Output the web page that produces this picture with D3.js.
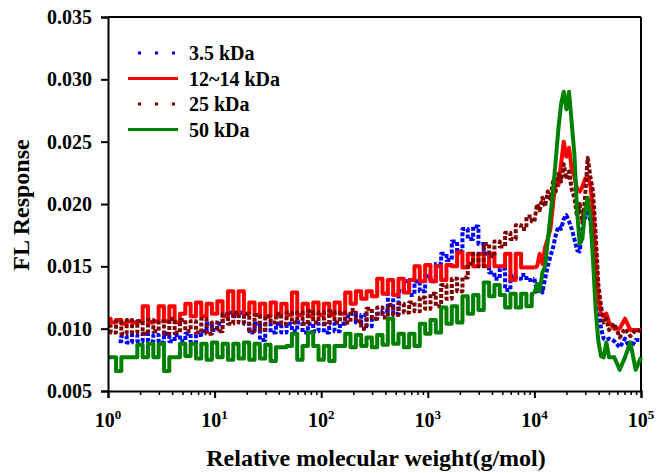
<!DOCTYPE html>
<html>
<head>
<meta charset="utf-8">
<script src="https://cdn.jsdelivr.net/npm/d3@7/dist/d3.min.js"></script>
<style>
  body { margin: 0; background: #fff; }
  svg text { font-family: "Liberation Serif", "Times New Roman", serif; font-weight: bold; fill: #000; }
</style>
</head>
<body>
<svg id="chart" width="658" height="473"></svg>
<script>
// log10 of relative molecular weight (shared x grid)
var logM = [
  0.00, 0.05, 0.10, 0.15, 0.20, 0.25, 0.30, 0.35, 0.40, 0.45,
  0.50, 0.55, 0.60, 0.65, 0.70, 0.75, 0.80, 0.85, 0.90, 0.95,
  1.00, 1.05, 1.10, 1.15, 1.20, 1.25, 1.30, 1.35, 1.40, 1.45,
  1.50, 1.55, 1.60, 1.65, 1.70, 1.75, 1.80, 1.85, 1.90, 1.95,
  2.00, 2.05, 2.10, 2.15, 2.20, 2.25, 2.30, 2.35, 2.40, 2.45,
  2.50, 2.55, 2.60, 2.65, 2.70, 2.75, 2.80, 2.85, 2.90, 2.95,
  3.00, 3.05, 3.10, 3.15, 3.20, 3.25, 3.30, 3.35, 3.40, 3.45,
  3.50, 3.55, 3.60, 3.65, 3.70, 3.75, 3.80, 3.85, 3.90, 3.95,
  4.00, 4.025, 4.05, 4.075, 4.10, 4.125, 4.15, 4.175, 4.20, 4.225,
  4.25, 4.275, 4.30, 4.325, 4.35, 4.375, 4.40, 4.425, 4.45, 4.475,
  4.50, 4.525, 4.55, 4.575, 4.60, 4.625, 4.65, 4.675, 4.70, 4.75,
  4.80, 4.85, 4.90, 4.95, 5.00
];

var fl35 = [
  null, null, 0.0090, 0.0094, 0.0089, 0.0095, 0.0090, 0.0096, 0.0090, 0.0095,
  0.0089, 0.0096, 0.0090, 0.0095, 0.0090, 0.0096, 0.0089, 0.0095, 0.0098, 0.0104,
  0.0099, 0.0104, 0.0110, 0.0113, 0.0110, 0.0113, 0.0104, 0.0097, 0.0104, 0.0091,
  0.0104, 0.0097, 0.0104, 0.0097, 0.0104, 0.0098, 0.0105, 0.0097, 0.0104, 0.0098,
  0.0104, 0.0097, 0.0105, 0.0098, 0.0104, 0.0110, 0.0112, 0.0105, 0.0111, 0.0102,
  0.0108, 0.0112, 0.0114, 0.0128, 0.0112, 0.0130, 0.0138, 0.0127, 0.0138, 0.0130,
  0.0142, 0.0138, 0.0152, 0.0160, 0.0155, 0.0170, 0.0162, 0.0180, 0.0172, 0.0182,
  0.0168, 0.0160, 0.0145, 0.0140, 0.0148, 0.0131, 0.0142, 0.0140, 0.0143, 0.0139,
  0.0140, 0.0130, 0.0135, 0.0129, 0.0140, 0.0150, 0.0158, 0.0165, 0.0175, 0.0182,
  0.0180, 0.0188, 0.0191, 0.0186, 0.0180, 0.0172, 0.0163, 0.0162, 0.0180, 0.0189,
  0.0193, 0.0187, 0.0165, 0.0138, 0.0118, 0.0100, 0.0092, 0.0091, 0.0092, 0.0090,
  0.0085, 0.0092, 0.0084, 0.0091, 0.0091
];

var fl1214 = [
  0.0108, 0.0105, 0.0107, 0.0104, 0.0106, 0.0105, 0.0106, 0.0118, 0.0105, 0.0106,
  0.0118, 0.0106, 0.0118, 0.0105, 0.0112, 0.0120, 0.0110, 0.0121, 0.0110, 0.0120,
  0.0112, 0.0122, 0.0110, 0.0130, 0.0112, 0.0130, 0.0112, 0.0121, 0.0111, 0.0120,
  0.0110, 0.0121, 0.0110, 0.0120, 0.0111, 0.0129, 0.0111, 0.0120, 0.0110, 0.0121,
  0.0111, 0.0120, 0.0111, 0.0121, 0.0112, 0.0129, 0.0120, 0.0130, 0.0124, 0.0130,
  0.0126, 0.0140, 0.0128, 0.0139, 0.0127, 0.0140, 0.0129, 0.0139, 0.0150, 0.0138,
  0.0151, 0.0138, 0.0150, 0.0139, 0.0151, 0.0150, 0.0161, 0.0149, 0.0160, 0.0150,
  0.0160, 0.0150, 0.0160, 0.0150, 0.0150, 0.0160, 0.0139, 0.0160, 0.0149, 0.0149,
  0.0149, 0.0150, 0.0160, 0.0152, 0.0165, 0.0172, 0.0180, 0.0200, 0.0220, 0.0215,
  0.0232, 0.0250, 0.0238, 0.0245, 0.0228, 0.0222, 0.0212, 0.0210, 0.0214, 0.0220,
  0.0222, 0.0215, 0.0195, 0.0160, 0.0125, 0.0112, 0.0110, 0.0112, 0.0105, 0.0100,
  0.0100, 0.0108, 0.0099, 0.0099, 0.0099
];

var fl25 = [
  0.0102, 0.0097, 0.0106, 0.0096, 0.0107, 0.0097, 0.0106, 0.0096, 0.0107, 0.0098,
  0.0106, 0.0096, 0.0108, 0.0097, 0.0107, 0.0098, 0.0106, 0.0097, 0.0108, 0.0096,
  0.0105, 0.0098, 0.0112, 0.0104, 0.0113, 0.0105, 0.0112, 0.0098, 0.0111, 0.0099,
  0.0110, 0.0105, 0.0112, 0.0104, 0.0113, 0.0105, 0.0113, 0.0104, 0.0114, 0.0105,
  0.0113, 0.0104, 0.0114, 0.0105, 0.0113, 0.0105, 0.0115, 0.0106, 0.0100, 0.0116,
  0.0108, 0.0117, 0.0109, 0.0119, 0.0111, 0.0120, 0.0113, 0.0121, 0.0114, 0.0125,
  0.0116, 0.0128, 0.0118, 0.0135, 0.0124, 0.0140, 0.0130, 0.0141, 0.0152, 0.0160,
  0.0150, 0.0168, 0.0158, 0.0170, 0.0166, 0.0177, 0.0172, 0.0183, 0.0180, 0.0190,
  0.0186, 0.0200, 0.0195, 0.0205, 0.0198, 0.0210, 0.0204, 0.0218, 0.0210, 0.0224,
  0.0218, 0.0232, 0.0220, 0.0226, 0.0212, 0.0205, 0.0190, 0.0200, 0.0185, 0.0205,
  0.0237, 0.0222, 0.0210, 0.0175, 0.0135, 0.0118, 0.0105, 0.0108, 0.0099, 0.0104,
  0.0093, 0.0100, 0.0094, 0.0099, 0.0098
];

var fl50 = [
  0.0077, 0.0077, 0.0066, 0.0077, 0.0077, 0.0077, 0.0087, 0.0077, 0.0088, 0.0077,
  0.0088, 0.0066, 0.0077, 0.0077, 0.0088, 0.0078, 0.0088, 0.0076, 0.0088, 0.0075,
  0.0089, 0.0077, 0.0088, 0.0075, 0.0088, 0.0076, 0.0089, 0.0075, 0.0088, 0.0076,
  0.0087, 0.0074, 0.0085, 0.0085, 0.0086, 0.0096, 0.0075, 0.0086, 0.0097, 0.0086,
  0.0075, 0.0086, 0.0074, 0.0086, 0.0086, 0.0096, 0.0085, 0.0095, 0.0086, 0.0093,
  0.0085, 0.0095, 0.0087, 0.0108, 0.0088, 0.0096, 0.0085, 0.0096, 0.0086, 0.0104,
  0.0096, 0.0107, 0.0097, 0.0117, 0.0104, 0.0118, 0.0105, 0.0126, 0.0112, 0.0127,
  0.0115, 0.0137, 0.0126, 0.0135, 0.0127, 0.0117, 0.0128, 0.0117, 0.0128, 0.0118,
  0.0128, 0.0136, 0.0130, 0.0145, 0.0150, 0.0170, 0.0190, 0.0210, 0.0235, 0.0260,
  0.0280, 0.0290, 0.0276, 0.0290, 0.0265, 0.0240, 0.0195, 0.0168, 0.0172, 0.0195,
  0.0205, 0.0190, 0.0155, 0.0115, 0.0090, 0.0078, 0.0077, 0.0089, 0.0077, 0.0077,
  0.0067, 0.0077, 0.0089, 0.0067, 0.0077
];

var seriesNames = ["3.5 kDa", "12~14 kDa", "25 kDa", "50 kDa"];
var seriesColors = ["#0000ff", "#ff0000", "#800000", "#008000"];
var yTicks = [0.005, 0.010, 0.015, 0.020, 0.025, 0.030, 0.035];
var xTickExp = [0, 1, 2, 3, 4, 5];

var svg = d3.select("#chart");
var mLeft = 108, mRight = 641, mTop = 17, mBottom = 391;

var x = d3.scaleLog().domain([1, 1e5]).range([mLeft, mRight]);
var y = d3.scaleLinear().domain([0.005, 0.035]).range([mBottom, mTop]);

// frame top/right
svg.append("line").attr("x1", mLeft).attr("x2", mRight).attr("y1", mTop).attr("y2", mTop)
  .attr("stroke", "#000").attr("stroke-width", 2);
svg.append("line").attr("x1", mRight).attr("x2", mRight).attr("y1", mTop).attr("y2", mBottom)
  .attr("stroke", "#000").attr("stroke-width", 2);

// series: noisy baseline drawn as steps, the peak part (from 10^4) as a plain line
var all = [fl35, fl1214, fl25, fl50];
var dashes = ["4,2", null, "4,2", null];
var split = logM.indexOf(4.00);
function mkLine(curve) {
  return d3.line()
    .defined(function(d) { return d[1] !== null; })
    .curve(curve)
    .x(function(d) { return x(Math.pow(10, d[0])); })
    .y(function(d) { return y(d[1]); });
}
var stepLine = mkLine(d3.curveStep);
var peakLine = mkLine(d3.curveLinear);

var plot = svg.append("g");
all.forEach(function(vals, k) {
  var pts = logM.map(function(m, i) { return [m, vals[i]]; });
  var g = plot.append("g")
    .attr("fill", "none")
    .attr("stroke", seriesColors[k])
    .attr("stroke-width", 4)
    .attr("stroke-dasharray", dashes[k])
    .attr("stroke-linejoin", "round");
  g.append("path").datum(pts.slice(0, split + 1)).attr("d", stepLine);
  g.append("path").datum(pts.slice(split)).attr("d", peakLine);
});

// y axis
var yAxis = d3.axisLeft(y).tickValues(yTicks).tickFormat(d3.format(".3f")).tickSize(7).tickPadding(9);
var gy = svg.append("g").attr("transform", "translate(" + mLeft + ",0)").call(yAxis);
gy.select(".domain").attr("stroke-width", 2);
gy.selectAll(".tick line").attr("stroke-width", 2);
gy.selectAll("text").style("font-size", "20px").attr("font-family", null);

// x axis: major + minor ticks
var majors = xTickExp.map(function(e) { return Math.pow(10, e); });
var minors = [];
majors.slice(0, 5).forEach(function(m) {
  for (var k = 2; k <= 9; k++) minors.push(m * k);
});
var gx = svg.append("g").attr("transform", "translate(0," + mBottom + ")")
  .call(d3.axisBottom(x).tickValues(majors).tickFormat("").tickSize(7));
gx.select(".domain").attr("stroke-width", 2);
gx.selectAll(".tick line").attr("stroke-width", 2);
var gm = svg.append("g").attr("transform", "translate(0," + mBottom + ")")
  .call(d3.axisBottom(x).tickValues(minors).tickFormat("").tickSize(4));
gm.select(".domain").remove();
gm.selectAll(".tick line").attr("stroke-width", 1.5);

// x tick labels 10^n
var lbl = svg.append("g").selectAll("text").data(xTickExp).enter().append("text")
  .attr("x", function(e) { return x(Math.pow(10, e)); })
  .attr("y", mBottom + 36)
  .attr("text-anchor", "middle")
  .style("font-size", "20px");
lbl.append("tspan").text("10");
lbl.append("tspan").attr("dy", -8).style("font-size", "13px").text(function(e) { return e; });

// axis titles
svg.append("text").attr("x", 376).attr("y", 466)
  .attr("text-anchor", "middle").style("font-size", "24px")
  .text("Relative molecular weight(g/mol)");
svg.append("text").attr("transform", "translate(29,205) rotate(-90)")
  .attr("text-anchor", "middle").style("font-size", "24px")
  .text("FL Response");

// legend
var legend = svg.append("g");
var legendDash = ["3,14", null, "3,14", null];
seriesNames.forEach(function(name, k) {
  var ly = 53 + k * 25.5;
  legend.append("line")
    .attr("x1", k === 0 || k === 2 ? 138 : 128).attr("x2", 178)
    .attr("y1", ly).attr("y2", ly)
    .attr("stroke", seriesColors[k]).attr("stroke-width", 3)
    .attr("stroke-dasharray", legendDash[k]);
  legend.append("text").attr("x", 189).attr("y", ly + 7)
    .style("font-size", "20px").text(name);
});
</script>
</body>
</html>
